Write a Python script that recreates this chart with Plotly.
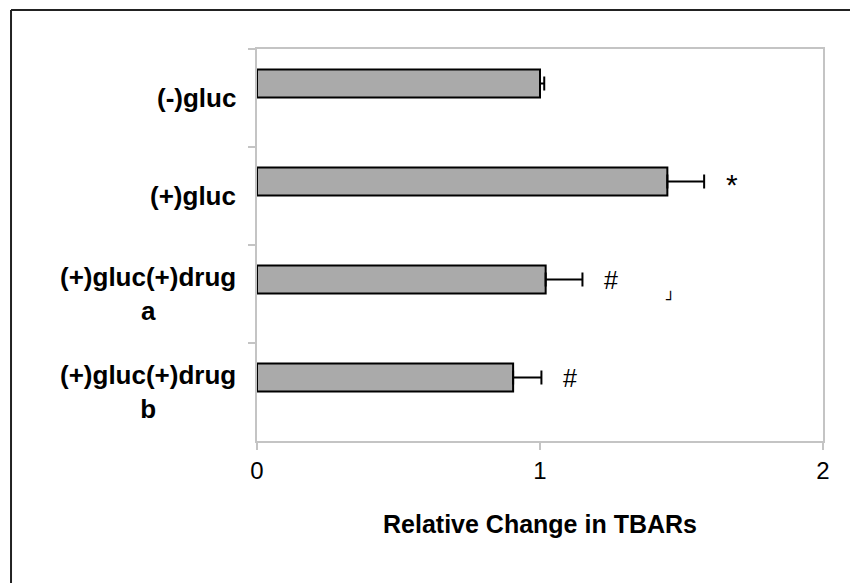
import plotly.graph_objects as go

categories = ["(-)gluc", "(+)gluc", "(+)gluc(+)drug<br>a", "(+)gluc(+)drug<br>b"]
values = [1.00, 1.45, 1.02, 0.905]
errors = [0.015, 0.13, 0.13, 0.10]
markers = ["", "*", "#", "#"]
x_ticks = [0, 1, 2]

FONT = "Liberation Sans, Arial, sans-serif"
AXIS_GRAY = "#c4c4c4"

fig = go.Figure()
fig.add_trace(go.Bar(
    y=categories, x=values, orientation="h",
    marker=dict(color="#aaaaaa", line=dict(color="black", width=2)),
    width=0.285, offset=-0.29,
    error_x=dict(type="data", array=errors, arrayminus=[0] * len(errors),
                 symmetric=False, color="black", thickness=2, width=7),
    showlegend=False, hoverinfo="x+y",
))

# category labels (centered multi-line) as annotations
for cat in categories:
    fig.add_annotation(x=0, xref="paper", y=cat, yref="y", xanchor="right", yanchor="middle",
                       xshift=-19, text="<b>" + cat + "</b>", showarrow=False, align="center",
                       font=dict(family=FONT, size=26, color="black"))

# significance markers
for cat, v, e, m in zip(categories, values, errors, markers):
    if m:
        fig.add_annotation(x=v + e + 0.1, y=cat, yshift=14 if m == "#" else 12, text=m, showarrow=False,
                           font=dict(family=FONT, size=30 if m == "*" else 25, color="black"))

# stray mark in original figure
fig.add_annotation(x=1.46, xref="x", y=categories[2], yref="y", yshift=-5, text="┘",
                   showarrow=False, font=dict(family="DejaVu Sans", size=15, color="black"))

# outer border (left & top)
fig.add_shape(type="line", xref="paper", yref="paper", x0=-0.4346, x1=-0.4346, y0=-0.37, y1=1.0995,
              line=dict(color="#222222", width=2))
fig.add_shape(type="line", xref="paper", yref="paper", x0=-0.4346, x1=1.06, y0=1.0995, y1=1.0995,
              line=dict(color="#222222", width=2))

fig.update_layout(
    width=850, height=583,
    margin=dict(l=257, r=27, t=49, b=142),
    paper_bgcolor="white", plot_bgcolor="white",
    font=dict(family=FONT, color="black"),
    xaxis=dict(range=[0, 2], tickvals=x_ticks, ticktext=[str(t) for t in x_ticks],
               showgrid=False, zeroline=False, showline=True, mirror=True,
               linecolor=AXIS_GRAY, linewidth=1.5, ticks="outside", ticklen=7,
               tickcolor=AXIS_GRAY, tickwidth=1.5,
               tickfont=dict(family=FONT, size=24, color="black"),
               title=dict(text="<b>Relative Change in TBARs</b>", standoff=33,
                          font=dict(family=FONT, size=25, color="black"))),
    yaxis=dict(type="category", categoryorder="array", categoryarray=categories,
               autorange="reversed", showgrid=False, zeroline=False, showline=True, mirror=True,
               linecolor=AXIS_GRAY, linewidth=1.5, ticks="outside", ticklen=7,
               tickcolor=AXIS_GRAY, tickwidth=1.5, tickson="boundaries",
               showticklabels=False),
)

fig.write_html("out.html", config={"displayModeBar": False},
               post_script="document.body.style.margin='0';document.body.style.overflow='hidden';")
